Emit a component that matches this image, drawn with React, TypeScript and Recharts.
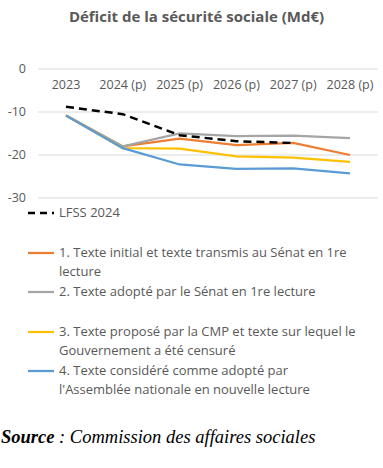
import { LineChart, Line, XAxis, YAxis, CartesianGrid } from 'recharts'

// années (axe x) et séries en Md€
const years = ['2023', '2024 (p)', '2025 (p)', '2026 (p)', '2027 (p)', '2028 (p)']
const lfss2024 = [-8.8, -10.5, -15.4, -16.8, -17.2, null]
const texteInitial = [-10.8, -18.0, -16.2, -17.7, -17.2, -20.0]
const texteSenat = [-10.8, -18.0, -15.0, -15.6, -15.5, -16.1]
const texteCmp = [-10.8, -18.4, -18.5, -20.3, -20.6, -21.6]
const texteAn = [-10.8, -18.4, -22.2, -23.2, -23.1, -24.3]
const yTicks = [0, -10, -20, -30]

const legendItems = [
  { label: 'LFSS 2024', color: '#000000', dashed: true },
  { label: '1. Texte initial et texte transmis au Sénat en 1re lecture', color: '#ED7D31', dashed: false },
  { label: '2. Texte adopté par le Sénat en 1re lecture', color: '#A5A5A5', dashed: false },
  { label: '3. Texte proposé par la CMP et texte sur lequel le Gouvernement a été censuré', color: '#FFC000', dashed: false },
  { label: "4. Texte considéré comme adopté par l'Assemblée nationale en nouvelle lecture", color: '#5B9BD5', dashed: false },
]

const data = years.map((year, i) => ({
  year,
  lfss: lfss2024[i],
  initial: texteInitial[i],
  senat: texteSenat[i],
  cmp: texteCmp[i],
  an: texteAn[i],
}))

const font = '"Open Sans", Lato, sans-serif'
const grey = '#595959'

// étiquettes d'années sous la ligne du zéro (comme dans Excel)
function YearTick(props: any) {
  const { x, y, payload } = props
  return (
    <text x={x} y={y + 28} textAnchor="middle" fill={grey} fontSize={12.5} fontFamily={font}>
      {payload.value}
    </text>
  )
}

export default function App() {
  return (
    <div style={{ position: 'fixed', left: 0, top: 0, width: 383, height: 468, background: '#fff', fontFamily: font }}>
      <div style={{ position: 'absolute', top: 6, left: 0, width: 393, textAlign: 'center', fontWeight: 700, fontSize: 15, color: grey }}>
        Déficit de la sécurité sociale (Md€)
      </div>
      <div style={{ position: 'absolute', top: 0, left: 0 }}>
        <LineChart width={383} height={210} data={data} margin={{ top: 39, right: 5, bottom: 12, left: 0 }}>
          <CartesianGrid vertical={false} stroke="#d9d9d9" />
          <XAxis
            dataKey="year"
            orientation="top"
            height={30}
            axisLine={false}
            tickLine={false}
            tick={<YearTick />}
            interval={0}
            padding={{ left: 28, right: 28 }}
          />
          <YAxis
            domain={[-30, 0]}
            ticks={yTicks}
            width={38}
            axisLine={false}
            tickLine={false}
            tickMargin={6}
            tick={{ fill: grey, fontSize: 12.5, fontFamily: font }}
          />
          <Line dataKey="initial" stroke="#ED7D31" strokeWidth={2.25} dot={false} isAnimationActive={false} />
          <Line dataKey="senat" stroke="#A5A5A5" strokeWidth={2.25} dot={false} isAnimationActive={false} />
          <Line dataKey="cmp" stroke="#FFC000" strokeWidth={2.25} dot={false} isAnimationActive={false} />
          <Line dataKey="an" stroke="#5B9BD5" strokeWidth={2.25} dot={false} isAnimationActive={false} />
          <Line dataKey="lfss" stroke="#000000" strokeWidth={2.5} strokeDasharray="8 5" dot={false} isAnimationActive={false} />
        </LineChart>
      </div>
      <div style={{ position: 'absolute', top: 203, left: 28, width: 331 }}>
        {legendItems.map(item => (
          <div key={item.label} style={{ display: 'flex', alignItems: 'flex-start', height: 39.5 }}>
            <svg width={31} height={19} style={{ flex: 'none' }}>
              <line
                x1={0}
                x2={26}
                y1={10}
                y2={10}
                stroke={item.color}
                strokeWidth={item.dashed ? 2.5 : 2.25}
                strokeDasharray={item.dashed ? '7 5' : undefined}
              />
            </svg>
            <div style={{ fontSize: 13, lineHeight: '19px', color: grey }}>{item.label}</div>
          </div>
        ))}
      </div>
      <div style={{ position: 'absolute', top: 427, left: 1, fontFamily: '"Liberation Serif", serif', fontStyle: 'italic', fontSize: 18.5, color: '#000' }}>
        <b>Source</b> : Commission des affaires sociales
      </div>
    </div>
  )
}
